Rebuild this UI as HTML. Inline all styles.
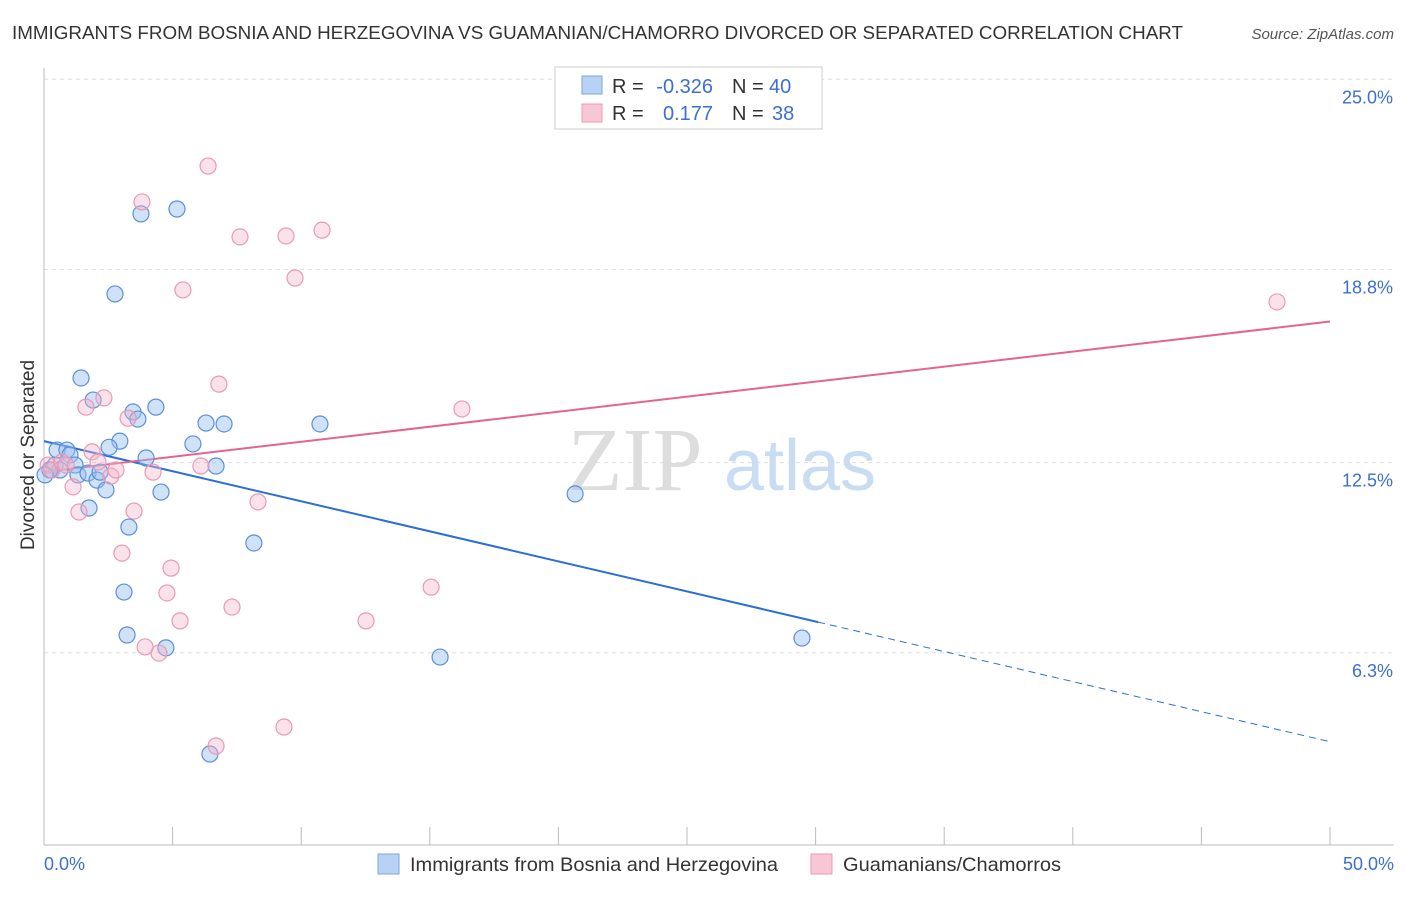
<!DOCTYPE html>
<html><head><meta charset="utf-8"><style>
body{margin:0;background:#fff;font-family:"Liberation Sans",sans-serif;}
</style></head><body>
<svg width="1406" height="892" id="chart" xmlns="http://www.w3.org/2000/svg" font-family="Liberation Sans, sans-serif">
<text x="12" y="39" font-size="18" fill="#333" textLength="1171" lengthAdjust="spacingAndGlyphs">IMMIGRANTS FROM BOSNIA AND HERZEGOVINA VS GUAMANIAN/CHAMORRO DIVORCED OR SEPARATED CORRELATION CHART</text>
<text x="1394" y="39" font-size="15" fill="#555" font-style="italic" text-anchor="end">Source: ZipAtlas.com</text>
<text x="34" y="455" font-size="19" fill="#333" text-anchor="middle" transform="rotate(-90 34 455)">Divorced or Separated</text>
<g><text x="635" y="490" font-size="90" fill="#ddd" font-family="Liberation Serif, serif" text-anchor="middle">ZIP</text><text x="800" y="490" font-size="72" fill="#c8dcf2" text-anchor="middle">atlas</text></g>
<g id="grid"></g><g id="axes"></g><g id="lines"></g><g id="pts"></g>
<g>
<rect x="555" y="67" width="267" height="62" fill="#fff" stroke="#ccc"/>
<rect x="582" y="76" width="20" height="18" fill="#b8d2f4" stroke="#7ea6e0"/>
<rect x="582" y="104" width="20" height="18" fill="#f9c6d5" stroke="#eb9ab5"/>
<g font-size="20" fill="#333">
<text x="612" y="93">R =</text><text x="713" y="93" text-anchor="end" fill="#3b6fd4">-0.326</text><text x="732" y="93">N =</text><text x="769" y="93" fill="#3b6fd4">40</text>
<text x="612" y="120">R =</text><text x="713" y="120" text-anchor="end" fill="#3b6fd4">0.177</text><text x="732" y="120">N =</text><text x="772" y="120" fill="#3b6fd4">38</text>
</g>
</g>
<g>
<rect x="378" y="854" width="21" height="20" fill="#b8d2f4" stroke="#7ea6e0"/>
<text x="410" y="871" font-size="19.5" fill="#333" textLength="368" lengthAdjust="spacingAndGlyphs">Immigrants from Bosnia and Herzegovina</text>
<rect x="811" y="854" width="21" height="20" fill="#f9c6d5" stroke="#eb9ab5"/>
<text x="843" y="871" font-size="19.5" fill="#333" textLength="218" lengthAdjust="spacingAndGlyphs">Guamanians/Chamorros</text>
</g>
</svg>
<script>
const yTicks=[25.0,18.8,12.5,6.3];
const yTickLabels=["25.0%","18.8%","12.5%","6.3%"];
const xTickLabels=["0.0%","50.0%"];
const blueX=[0.51,0.89,1.01,0.43,0.62,1.21,1.32,1.71,2.06,2.18,2.41,1.75,1.44,1.91,2.76,3.77,5.17,3.46,3.65,4.35,2.95,2.53,3.97,4.55,3.30,3.11,3.23,4.74,5.79,6.30,7.0,6.69,8.16,10.73,6.45,15.40,20.65,29.47,0.23,0.04];
const blueY=[12.91,12.91,12.75,12.42,12.26,12.42,12.10,12.16,11.93,12.19,11.61,11.02,15.26,14.54,18.0,20.61,20.77,14.15,13.92,14.31,13.2,13.0,12.65,11.54,10.40,8.28,6.88,6.46,13.11,13.79,13.76,12.39,9.88,13.76,3.0,6.16,11.48,6.78,12.26,12.10];
const pinkX=[0.16,0.31,0.70,1.13,1.36,1.63,1.87,2.10,2.33,2.60,2.80,3.27,3.50,3.81,3.03,4.24,4.78,4.94,5.29,4.47,3.93,5.40,6.38,6.10,6.80,7.31,6.69,7.62,8.32,9.41,9.76,9.33,10.81,12.52,15.05,16.25,47.94,0.86];
const pinkY=[12.42,12.26,12.52,11.71,10.89,14.31,12.85,12.52,14.61,12.06,12.26,13.95,10.92,21.0,9.55,12.19,8.25,9.06,7.34,6.29,6.49,18.13,22.17,12.39,15.06,7.79,3.26,19.86,11.22,19.89,18.52,3.88,20.08,7.34,8.44,14.25,17.74,12.42];
const blueTrend=[13.2,3.4], pinkTrend=[12.2,17.1];
const NS="http://www.w3.org/2000/svg";
const X=v=>44+v*25.72, Y=v=>846-v*30.67;
function mk(tag,attrs,parent){const e=document.createElementNS(NS,tag);for(const k in attrs)e.setAttribute(k,attrs[k]);document.getElementById(parent).appendChild(e);return e;}
yTicks.forEach((t,i)=>{
 const l=mk('line',{x1:44,x2:1394,y1:Y(t),y2:Y(t),stroke:'#ddd','stroke-dasharray':'4,4'},'grid');
 
 
 const tx=mk('text',{x:1393,y:Y(t)+24,'font-size':18,fill:'#3b6fd4','text-anchor':'end'},'grid');
 tx.textContent=yTickLabels[i];
 
 
});
const ax=mk('line',{x1:44,x2:1394,y1:845,y2:845,stroke:'#bbb'},'axes');


const ay=mk('line',{x1:44,x2:44,y1:68,y2:845,stroke:'#bbb'},'axes');


for(let i=0;i<=10;i++){
 const t=mk('line',{x1:X(i*5),x2:X(i*5),y1:827,y2:845,stroke:'#bbb'},'axes');
 
 
}
[[0,'start',44],[50,'end',1394]].forEach((d,i)=>{
 const tx=mk('text',{x:d[2],y:870,'font-size':18,fill:'#3b6fd4','text-anchor':d[1]},'axes');
 tx.textContent=xTickLabels[i];
 
 
});
const bAt=x=>blueTrend[0]+(blueTrend[1]-blueTrend[0])*x/50;
let l1=mk('line',{x1:X(0),y1:Y(bAt(0)),x2:X(30.1),y2:Y(bAt(30.1)),stroke:'#2a6fd6','stroke-width':2},'lines');


let l2=mk('line',{x1:X(30.1),y1:Y(bAt(30.1)),x2:X(50),y2:Y(bAt(50)),stroke:'#2a6fd6','stroke-width':1,'stroke-dasharray':'7,5'},'lines');


let l3=mk('line',{x1:X(0),y1:Y(pinkTrend[0]),x2:X(50),y2:Y(pinkTrend[1]),stroke:'#e4648f','stroke-width':2},'lines');


blueX.forEach((x,i)=>{
 const c=mk('circle',{cx:X(x),cy:Y(blueY[i]),r:8,fill:'rgba(150,190,240,0.45)',stroke:'#5b8fd9','stroke-width':1.2},'pts');
 
 
});
pinkX.forEach((x,i)=>{
 const c=mk('circle',{cx:X(x),cy:Y(pinkY[i]),r:8,fill:'rgba(244,180,200,0.4)',stroke:'#e89ab4','stroke-width':1.2},'pts');
 
 
});
</script>
</body></html>
